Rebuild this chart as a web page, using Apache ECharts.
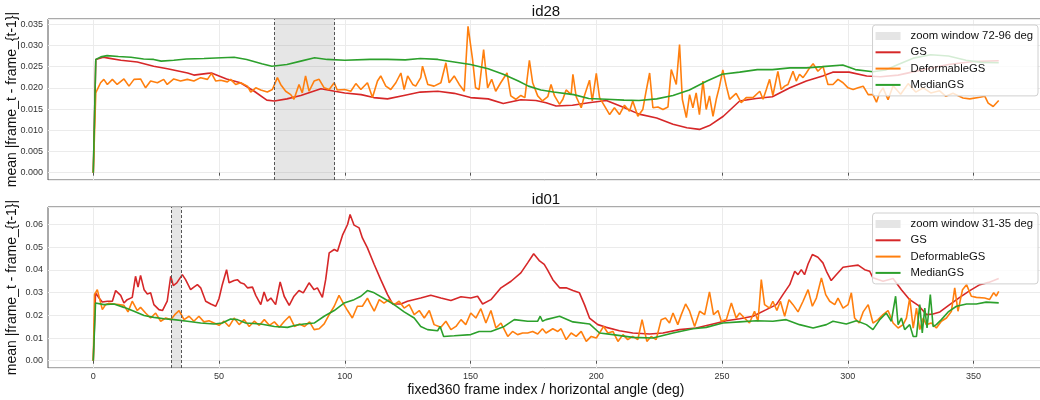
<!DOCTYPE html>
<html>
<head>
<meta charset="utf-8">
<title>id28 / id01 frame difference</title>
<script src="https://cdn.jsdelivr.net/npm/echarts@6/dist/echarts.min.js"></script>
<style>
html,body{margin:0;padding:0;background:#fff}
#chart{width:1040px;height:400px}
</style>
</head>
<body>
<div id="chart"></div>
<script>
/* mean |frame_t - frame_{t-1}| per angle, two scenes */
var FONT = 'Liberation Sans, Arial, sans-serif';

// id28 (top panel), [angle, value]
var id28GS = [[0,0],[1,.0267],[4,.0272],[6,.0270],[11,.0265],[17.5,.0261],[24,.0251],[29.5,.0245],[37.5,.0235],[40,.0230],[45.5,.0234],[47,.0235],[53,.0221],[58.5,.0212],[64,.0192],[69,.0171],[72,.0169],[77,.0174],[82.5,.0182],[90.5,.0198],[96,.0192],[100,.0188],[106.5,.0184],[111.5,.0177],[117,.0174],[123.5,.0182],[130,.0190],[137,.0192],[143.5,.0187],[150,.0177],[157,.0174],[163,.0163],[170,.0172],[176,.0170],[180,.0165],[184,.0157],[190.5,.0159],[197,.0165],[204,.0170],[210.5,.0155],[217,.0138],[224,.0129],[230.5,.0114],[236,.0106],[241,.0102],[245,.0111],[250.5,.0133],[257,.0169],[263.5,.0175],[270,.0179],[277,.0200],[283.5,.0216],[290,.0228],[294,.0237],[300.5,.0237],[307.5,.0228],[313,.0226],[320,.0230],[330,.0243],[340,.0255],[350,.0262],[360,.0264]];
var id28Deform = [[0,0],[1,.0188],[1.6,.0196],[2.9,.0212],[4.2,.0220],[5.6,.0208],[7.6,.0220],[9.5,.0208],[12.2,.0221],[14.2,.0204],[16.2,.0220],[18.8,.0221],[20.8,.0200],[22.8,.0216],[25.5,.0212],[28,.0220],[29.4,.0208],[32,.0221],[34.7,.0216],[37.4,.0220],[40,.0216],[42.7,.0224],[45.4,.0220],[47,.0234],[48.7,.0216],[50.7,.0218],[53.3,.0214],[54.6,.0220],[56.6,.0208],[58.6,.0212],[61.3,.0204],[62.6,.0190],[64.6,.0200],[66.6,.0195],[69.2,.0190],[71.2,.0196],[73.2,.0224],[74.5,.0208],[76.5,.0192],[78.5,.0184],[79.8,.0173],[81.8,.0208],[83.1,.0188],[84.4,.0228],[85.8,.0192],[87.8,.0216],[89.8,.0220],[91.8,.0200],[93.8,.0196],[95.8,.0212],[97,.0195],[100,.0196],[102.4,.0192],[104.4,.0210],[106.4,.0196],[109,.0212],[111,.0177],[113,.0216],[114.3,.0228],[116.3,.0204],[118.3,.0196],[120.3,.0212],[122.3,.0235],[123.6,.0196],[125,.0228],[127,.0208],[128.2,.0204],[130.2,.0224],[130.9,.0251],[133,.0208],[135.5,.0204],[138.2,.0212],[140.2,.0259],[141.5,.0212],[143.5,.0228],[145.5,.0208],[147.5,.0192],[149,.0345],[150.8,.0267],[152,.0200],[153.4,.0196],[155.2,.0290],[156.8,.0200],[158.4,.0220],[160,.0192],[162,.0212],[164.5,.0235],[166,.0181],[168,.0173],[170,.0182],[171.6,.0177],[173.4,.0265],[174.7,.0212],[176.7,.0181],[178.6,.0169],[180.7,.0179],[182,.0208],[183.4,.0181],[185.4,.0161],[186.7,.0173],[188,.0195],[190,.0184],[190.7,.0232],[192,.0179],[194,.0153],[195.3,.0182],[197.3,.0218],[198.4,.0169],[200,.0234],[201.3,.0177],[203.3,.0157],[205.3,.0137],[207.2,.0153],[209.2,.0137],[211.2,.0159],[213.2,.0145],[214.5,.0169],[216.5,.0133],[218.5,.0149],[219.8,.0192],[221.2,.0235],[222.5,.0153],[224.5,.0155],[226.5,.0149],[228.5,.0155],[229.8,.0243],[231.1,.0220],[231.8,.0208],[233.1,.0302],[234.2,.0173],[235.8,.0130],[237.1,.0184],[238.4,.0153],[239.7,.0188],[241,.0137],[242.4,.0216],[243.7,.0149],[245,.0181],[246.4,.0133],[247.7,.0173],[249,.0204],[250.3,.0242],[251.7,.0204],[253,.0173],[255.6,.0187],[257.6,.0165],[259.6,.0177],[262.3,.0177],[265,.0192],[266.3,.0173],[267.6,.0196],[268.9,.0220],[270.2,.0182],[272.2,.0239],[273.5,.0196],[274.9,.0204],[276.2,.0208],[278.2,.0239],[279.5,.0216],[280.8,.0232],[282.2,.0224],[283.5,.0235],[284.8,.0247],[286.2,.0257],[288.1,.0239],[290.1,.0251],[292.1,.0208],[294.1,.0208],[296.1,.0220],[298.1,.0212],[300.1,.0200],[302.1,.0196],[304.1,.0200],[306.1,.0204],[308.1,.0184],[310,.0184],[311.4,.0166],[312.6,.0188],[314,.0200],[316,.0172],[318,.0205],[321,.0185],[324,.0210],[327,.0190],[330,.0200],[333,.0188],[336.5,.0193],[339,.0180],[341.8,.0187],[345.8,.0176],[348.5,.0174],[352.5,.0178],[354.5,.0180],[355.8,.0164],[357.8,.0156],[360,.0170]];
var id28Median = [[0,0],[1,.0267],[3,.0273],[5.5,.0276],[10,.0274],[15,.0272],[20,.0268],[24,.0267],[27,.0263],[32,.0265],[37,.0268],[44,.0269],[51,.0271],[56,.0272],[61,.0267],[67,.0257],[71,.0251],[77,.0255],[82.5,.0263],[88,.0271],[93,.0267],[100,.0265],[110,.0267],[117,.0267],[124,.0266],[130,.0269],[137,.0267],[143.5,.0261],[150,.0255],[157,.0245],[163,.0232],[169,.0216],[173,.0204],[178,.0195],[183,.0190],[191,.0184],[197,.0175],[204,.0173],[211,.0171],[217,.0170],[224,.0174],[230.5,.0182],[237,.0195],[244,.0216],[250,.0232],[257,.0237],[264,.0243],[270,.0243],[277,.0247],[283.5,.0247],[290,.0250],[298,.0254],[303,.0243],[310,.0238],[315,.0242],[320,.0255],[326,.0270],[333,.0278],[340,.0275],[347,.0265],[353,.0260],[360,.0259]];

// id01 (bottom panel), [angle, value]
var id01GS = [[0,0],[0.9,.0299],[2.3,.0276],[3.6,.0259],[5.6,.0262],[7.6,.0262],[8.9,.0309],[10.9,.0288],[12.2,.0254],[13.5,.0269],[15.5,.0279],[16.8,.0372],[17.8,.0324],[18.8,.0376],[20.2,.0313],[21.5,.0294],[22.8,.0299],[24.1,.0247],[26.1,.0225],[27.5,.0221],[29.4,.0262],[30.8,.0372],[31.8,.0331],[33.2,.0343],[35.4,.0379],[36.7,.0357],[38.7,.0313],[40,.0324],[41.4,.0335],[42.7,.0321],[44.7,.0262],[46.7,.0250],[48.7,.0240],[50,.0274],[51.3,.0335],[53,.0401],[54,.0343],[56,.0353],[57.3,.0357],[58.6,.0343],[60,.0338],[61.3,.0321],[63.3,.0324],[64.6,.0288],[66.6,.0247],[67.9,.0303],[69.2,.0262],[70.6,.0276],[72.5,.0247],[74.3,.0347],[75.9,.0284],[77.9,.0244],[79.8,.0284],[81.8,.0309],[83.5,.0299],[85.8,.0343],[87.8,.0313],[89.1,.0321],[91.1,.0279],[92.4,.0357],[93.8,.0475],[95.8,.0490],[97.1,.0482],[99.1,.0553],[101.1,.0600],[102.1,.0644],[103.7,.0597],[105.7,.0585],[107,.0541],[109,.0497],[111.7,.0424],[114.3,.0357],[117,.0291],[119,.0250],[122.3,.0250],[124.9,.0262],[130.2,.0276],[134.2,.0288],[138.2,.0276],[142.2,.0265],[146.2,.0282],[150.1,.0276],[152.8,.0284],[154.8,.0250],[158.1,.0269],[162.1,.0321],[166.1,.0350],[170,.0387],[172.7,.0431],[175.1,.0471],[177.3,.0441],[179.3,.0424],[180.6,.0400],[182.7,.0357],[185.4,.0321],[188,.0321],[190.7,.0309],[193.3,.0299],[195.3,.0247],[197.3,.0188],[200.6,.0159],[204,.0147],[209.2,.0132],[214.5,.0122],[221.2,.0118],[226.5,.0122],[233.1,.0137],[239.7,.0144],[246.4,.0162],[251.7,.0176],[257,.0185],[262.3,.0196],[267.6,.0225],[271.6,.0247],[274.2,.0291],[276.9,.0335],[278.9,.0394],[280.2,.0379],[281.5,.0401],[282.8,.0379],[284.2,.0426],[285.9,.0468],[288.1,.0456],[290.1,.0431],[291.5,.0394],[293.4,.0353],[295.4,.0379],[298.1,.0412],[300.7,.0416],[304.1,.0421],[306.7,.0401],[308.7,.0394],[310,.0365],[314,.0350],[318,.0362],[321.3,.0313],[324.6,.0269],[328,.0244],[331.3,.0203],[333.9,.0206],[336.6,.0215],[340.5,.0247],[344.5,.0279],[348.5,.0309],[352.5,.0335],[356,.0345],[360,.0362]];
var id01Deform = [[0,0],[0.5,.0291],[1.6,.0313],[2.3,.0321],[3.6,.0225],[4.9,.0247],[6.2,.0253],[8.2,.0250],[10.2,.0247],[12.2,.0244],[13.8,.0215],[15.5,.0262],[17.5,.0221],[18.8,.0235],[20.8,.0210],[22.8,.0188],[24.8,.0210],[26.8,.0174],[28.8,.0188],[30.8,.0181],[32.4,.0203],[34.1,.0221],[36.1,.0181],[38.1,.0196],[40,.0174],[42,.0196],[44,.0171],[46,.0176],[48,.0166],[50,.0156],[52,.0174],[54,.0151],[56,.0188],[58,.0159],[60,.0181],[62,.0151],[64,.0174],[66,.0156],[68,.0181],[70,.0156],[72,.0171],[74,.0147],[76,.0174],[78,.0196],[80,.0151],[82,.0162],[84,.0151],[86,.0171],[87.8,.0137],[89.8,.0141],[91.8,.0162],[93.8,.0203],[95.8,.0240],[97.7,.0288],[99.7,.0247],[101.1,.0221],[103,.0188],[105,.0240],[107,.0240],[109,.0276],[110.3,.0247],[111.7,.0218],[113.7,.0269],[115.6,.0254],[117.6,.0269],[119.6,.0247],[121.6,.0262],[123.6,.0232],[125.6,.0247],[127.6,.0203],[129.6,.0221],[131.6,.0188],[133.6,.0221],[135.5,.0159],[138.2,.0147],[140.2,.0174],[142.2,.0137],[144.2,.0151],[146.2,.0181],[148.1,.0159],[150.1,.0210],[152.1,.0188],[154.1,.0229],[156.1,.0166],[158.1,.0221],[160.1,.0144],[162.1,.0166],[164.8,.0107],[166.7,.0129],[168.7,.0115],[170.7,.0122],[172.7,.0122],[174.7,.0129],[176.7,.0118],[178.6,.0141],[180,.0122],[182.7,.0141],[184.7,.0129],[186,.0141],[188,.0093],[190,.0122],[192,.0107],[194,.0129],[196,.0085],[198,.0107],[200,.0100],[201.3,.0122],[202.9,.0151],[204.6,.0122],[206.6,.0129],[208.6,.0085],[210.6,.0115],[212.5,.0093],[214.5,.0107],[216.5,.0093],[218.2,.0181],[220.1,.0085],[221.8,.0107],[223.8,.0093],[225.8,.0181],[227.5,.0188],[229.1,.0166],[230.5,.0210],[232.4,.0159],[233.8,.0203],[235.5,.0250],[237.1,.0218],[239.1,.0151],[241.1,.0218],[243.1,.0203],[245,.0303],[246.6,.0203],[248.4,.0221],[249.7,.0174],[251.7,.0181],[253.7,.0254],[255.6,.0188],[257,.0210],[258.9,.0188],[260.9,.0166],[262.9,.0218],[264.3,.0174],[265.6,.0357],[266.9,.0247],[268.9,.0232],[270.2,.0262],[271.8,.0221],[273.2,.0262],[274.9,.0196],[276.6,.0269],[278.2,.0247],[280.2,.0215],[282.2,.0262],[284.2,.0313],[285.9,.0240],[287.5,.0276],[289.5,.0365],[291.2,.0291],[292.8,.0262],[294.8,.0247],[296.1,.0276],[298.1,.0232],[300.1,.0247],[301.4,.0299],[302.7,.0188],[304.5,.0166],[306.1,.0215],[308.1,.0247],[310,.0166],[312,.0181],[314,.0203],[316,.0221],[318,.0166],[320,.0144],[322,.0159],[323.3,.0188],[324.6,.0276],[326,.0144],[327.3,.0232],[328.6,.0137],[330,.0188],[331.2,.0159],[333.2,.0166],[335.2,.0144],[337.2,.0174],[339.2,.0188],[341.2,.0218],[342.5,.0321],[343.8,.0218],[345.6,.0313],[347.2,.0335],[349.1,.0284],[351.1,.0279],[354.4,.0276],[356.4,.0270],[358,.0300],[359,.0285],[360,.0305]];
var id01Median = [[0,0],[0.9,.0254],[4.2,.0247],[8.2,.0250],[12.2,.0235],[16.2,.0218],[20.2,.0199],[24.1,.0191],[28.1,.0185],[32.1,.0181],[37.4,.0174],[42.7,.0166],[48,.0162],[51.3,.0166],[54.6,.0184],[57.3,.0181],[60.6,.0166],[66.6,.0162],[72,.0151],[77.2,.0147],[80.5,.0156],[83.8,.0162],[87.8,.0166],[91.8,.0196],[95.8,.0221],[99.7,.0254],[103.7,.0269],[106.4,.0284],[109,.0309],[111.7,.0299],[115.6,.0274],[119.6,.0247],[123.6,.0215],[127.6,.0188],[130.2,.0151],[132.9,.0137],[136.9,.0132],[137.9,.0151],[139.3,.0107],[143.5,.0110],[150.1,.0115],[153.4,.0129],[158.1,.0129],[163.4,.0151],[167.4,.0181],[172.7,.0174],[176.7,.0174],[177.7,.0196],[178.6,.0174],[180,.0181],[185.4,.0196],[190.7,.0171],[197.3,.0162],[201.3,.0122],[206.6,.0115],[214.5,.0103],[222.5,.0100],[230.5,.0122],[238.4,.0141],[243.7,.0147],[250.3,.0166],[257,.0171],[263.6,.0176],[270.2,.0174],[275.5,.0181],[280.8,.0159],[286.2,.0144],[291.5,.0159],[294.1,.0174],[299.4,.0162],[303.4,.0176],[307.4,.0159],[310,.0137],[312.7,.0181],[315.3,.0210],[317.3,.0174],[319,.0284],[320,.0159],[321.3,.0188],[322.6,.0137],[324.6,.0159],[326,.0107],[327.3,.0107],[328.6,.0247],[329.6,.0122],[330.6,.0232],[331.5,.0144],[332.8,.0291],[333.9,.0151],[335.2,.0159],[337.2,.0181],[339.9,.0215],[343.2,.0240],[347.2,.0250],[351.1,.0250],[355,.0258],[360,.0255]];

var panelTitles = ['id28', 'id01'];
var zoomWindows = [[72, 96], [31, 35]];
var methodNames = ['GS', 'DeformableGS', 'MedianGS'];
var methodColors = ['#d62728', '#ff7f0e', '#2ca02c'];
var panelData = [[id28GS, id28Deform, id28Median], [id01GS, id01Deform, id01Median]];
var yRanges = [[-0.00173, 0.03623], [-0.0032, 0.0677]];
var yDigits = [3, 2];
var xRange = [-18, 378];
var xTicks = [0, 50, 100, 150, 200, 250, 300, 350];

var gridTops = [19, 207];
var gridH = 161;

var chart = echarts.init(document.getElementById('chart'), null, {renderer: 'canvas'});

var grids = [], xAxes = [], yAxes = [], series = [], titles = [], legends = [];
for (var p = 0; p < 2; p++) {
    var zoomName = 'zoom window ' + zoomWindows[p][0] + '-' + zoomWindows[p][1] + ' deg';
    grids.push({
        left: 48, top: gridTops[p], width: 996, height: gridH,
        outerBoundsMode: 'none', containLabel: false,
        show: true, borderColor: '#555', borderWidth: 1, backgroundColor: '#fff'
    });
    xAxes.push({
        type: 'value', gridIndex: p, min: xRange[0], max: xRange[1], splitNumber: 8,
        axisLine: {show: false},
        axisTick: {show: true, length: 3, customValues: xTicks, lineStyle: {color: '#555'}},
        axisLabel: {show: p == 1, customValues: xTicks, fontSize: 9, margin: 4,
            color: '#333', fontFamily: FONT},
        splitLine: {show: true, lineStyle: {color: '#ebebeb', width: 1}},
        name: p == 1 ? 'fixed360 frame index / horizontal angle (deg)' : '',
        nameLocation: 'middle', nameGap: 15, nameMoveOverlap: false,
        nameTextStyle: {fontSize: 14, color: '#111', fontFamily: FONT}
    });
    yAxes.push({
        type: 'value', gridIndex: p, min: yRanges[p][0], max: yRanges[p][1], splitNumber: p == 0 ? 8 : 7,
        axisLine: {show: false},
        axisTick: {show: false},
        axisLabel: {showMinLabel: false, showMaxLabel: false, fontSize: 9, margin: 5, color: '#333',
            fontFamily: FONT,
            formatter: (function (d) { return function (v) { return v.toFixed(d); }; })(yDigits[p])},
        splitLine: {show: true, lineStyle: {color: '#ebebeb', width: 1}},
        name: 'mean |frame_t - frame_{t-1}|',
        nameLocation: 'middle', nameRotate: 90, nameGap: 29, nameMoveOverlap: false,
        nameTextStyle: {fontSize: 14, color: '#111', fontFamily: FONT}
    });
    titles.push({
        text: panelTitles[p], left: 546, top: gridTops[p] - 15, textAlign: 'center', padding: 0,
        textStyle: {fontSize: 15, fontWeight: 'normal', color: '#111', fontFamily: FONT}
    });
    // zoom window band (legend entry + shaded area + dashed edges)
    series.push({
        name: zoomName, type: 'line', xAxisIndex: p, yAxisIndex: p, data: [],
        symbol: 'none', color: '#e5e5e5', lineStyle: {width: 0},
        markArea: {silent: true, itemStyle: {color: 'rgba(128,128,128,0.2)'},
            data: [[{xAxis: zoomWindows[p][0]}, {xAxis: zoomWindows[p][1]}]]},
        markLine: {silent: true, symbol: ['none', 'none'], label: {show: false},
            lineStyle: {color: '#555', type: [3, 2], width: 1},
            data: [{xAxis: zoomWindows[p][0]}, {xAxis: zoomWindows[p][1]}]}
    });
    for (var m = 0; m < 3; m++) {
        series.push({
            name: methodNames[m], type: 'line', xAxisIndex: p, yAxisIndex: p,
            data: panelData[p][m], symbol: 'none', showSymbol: false,
            color: methodColors[m],
            lineStyle: {color: methodColors[m], width: 1.6}
        });
    }
    var legendData = [{name: zoomName, icon: 'rect', itemStyle: {color: '#e5e5e5'}}];
    for (var k = 0; k < 3; k++) {
        legendData.push({name: methodNames[k], icon: 'path://M0,0H50V4H0Z',
            itemStyle: {color: methodColors[k]}});
    }
    legends.push({
        orient: 'vertical', right: 2, top: gridTops[p] + 6,
        itemWidth: 25, itemHeight: 8, itemGap: 2.3, symbolKeepAspect: true,
        padding: [4, 5, 4, 3],
        backgroundColor: 'rgba(255,255,255,0.8)', borderColor: '#d0d0d0', borderWidth: 1, borderRadius: 3,
        textStyle: {fontSize: 11.3, color: '#111', fontFamily: FONT, lineHeight: 14, padding: [0, 0, 0, 5]},
        selectedMode: false,
        data: legendData
    });
}

chart.setOption({
    animation: false,
    backgroundColor: '#fff',
    title: titles,
    legend: legends,
    grid: grids,
    xAxis: xAxes,
    yAxis: yAxes,
    series: series
});
</script>
</body>
</html>
